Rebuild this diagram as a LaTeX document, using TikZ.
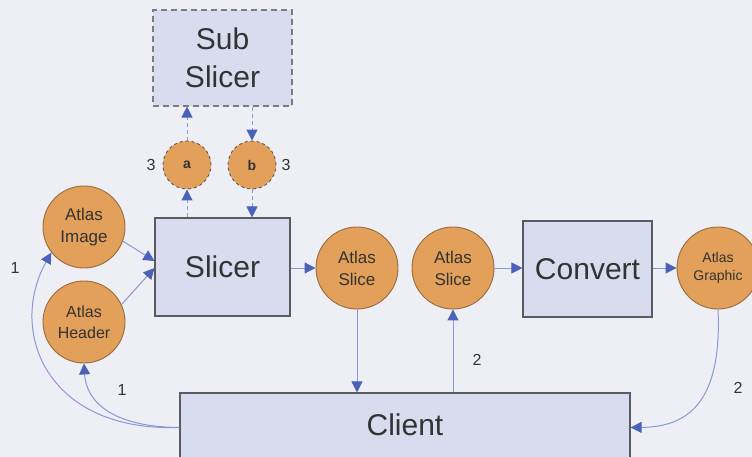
\documentclass[tikz,border=0pt]{standalone}
\usepackage{fontspec}
\setmainfont{Liberation Sans}
\usetikzlibrary{arrows.meta,calc}
\definecolor{bg}{HTML}{EEEFF5}
\definecolor{boxfill}{HTML}{D8DCEE}
\definecolor{boxline}{HTML}{5A5A62}
\definecolor{orangefill}{HTML}{E2A05A}
\definecolor{orangeline}{HTML}{9A6A3C}
\definecolor{arrowblue}{HTML}{4A62B8}
\definecolor{lineblue}{HTML}{8A98D4}
\definecolor{txt}{HTML}{333333}
\tikzset{
  procbox/.style={draw=boxline,line width=1.1pt,fill=boxfill,inner sep=0pt,text=txt,font=\fontsize{30}{34}\selectfont},
  datacirc/.style={circle,draw=orangeline,line width=0.9pt,fill=orangefill,inner sep=0pt,minimum size=82pt,text=txt,align=center},
  smallcirc/.style={circle,draw=boxline,dashed,line width=0.9pt,fill=orangefill,inner sep=0pt,minimum size=48pt,text=txt,font=\fontsize{14}{16}\selectfont},
  flow/.style={draw=lineblue,line width=1pt,-{Triangle[length=11pt,width=11pt,color=arrowblue]}},
  dflow/.style={flow,dashed,dash pattern=on 4pt off 3pt},
  numlbl/.style={text=txt,font=\fontsize{16}{18}\selectfont}
}
\begin{document}
\begin{tikzpicture}[x=1pt,y=-1pt]
\fill[bg] (0,0) rectangle (752,457);
\useasboundingbox (0,0) rectangle (752,457);
\clip (0,0) rectangle (752,457);
% boxes
\node[procbox,dashed,dash pattern=on 6pt off 4pt,draw=boxline!80,minimum width=139pt,minimum height=96pt,align=center,font=\fontsize{30}{38}\selectfont] (sub) at (222.5,58) {Sub\\Slicer};
\node[procbox,minimum width=135pt,minimum height=98pt] (slicer) at (222.5,267) {Slicer};
\node[procbox,minimum width=129pt,minimum height=96pt] (convert) at (587.5,269) {Convert};
\node[procbox,minimum width=450pt,minimum height=69pt,text depth=6pt] (client) at (405,427.5) {Client};
% circles
\node[smallcirc] (a) at (187,165) {\textbf{a}};
\node[smallcirc] (b) at (252,165) {\textbf{b}};
\node[datacirc,font=\fontsize{17}{22}\selectfont] (image) at (84,227) {Atlas\\Image};
\node[datacirc,font=\fontsize{16}{21}\selectfont] (header) at (84,322) {Atlas\\Header};
\node[datacirc,font=\fontsize{17}{22}\selectfont] (slice1) at (357,268) {Atlas\\Slice};
\node[datacirc,font=\fontsize{17}{22}\selectfont] (slice2) at (453,268) {Atlas\\Slice};
\node[datacirc,font=\fontsize{14}{18}\selectfont] (graphic) at (718,268) {Atlas\\Graphic};
% labels
\node[numlbl] (l3a) at (151,165) {3};
\node[numlbl] (l3b) at (286,165) {3};
\node[numlbl] (l1a) at (15,268) {1};
\node[numlbl] (l1b) at (122,390) {1};
\node[numlbl] (l2a) at (477,360) {2};
\node[numlbl] (l2b) at (738,388) {2};
% dashed flows
\draw[dflow] (a |- slicer.north) -- (a.south);
\draw[dflow] (a.north) -- (a |- sub.south);
\draw[dflow] (b |- sub.south) -- (b.north);
\draw[dflow] (b.south) -- (b |- slicer.north);
% solid flows
\draw[flow] (image.-20) -- ($(slicer.west)+(0,-6)$);
\draw[flow] (header.25) -- ($(slicer.west)+(0,1)$);
\draw[flow] (slicer.east |- slice1.west) -- (slice1.west);
\draw[flow] (slice1.south) -- (slice1 |- client.north);
\draw[flow] (slice2 |- client.north) -- (slice2.south);
\draw[flow] (slice2.east) -- (slice2.east -| convert.west);
\draw[flow] (convert.east |- graphic.west) -- (graphic.west);
\draw[flow] (graphic.south) .. controls (722,400) and (690,427) .. (client.east);
\draw[flow] (client.west) .. controls (45,432) and (8,330) .. (image.218);
\draw[flow] (client.west) .. controls (110,427) and (86,400) .. (header.south);
\end{tikzpicture}
\end{document}
